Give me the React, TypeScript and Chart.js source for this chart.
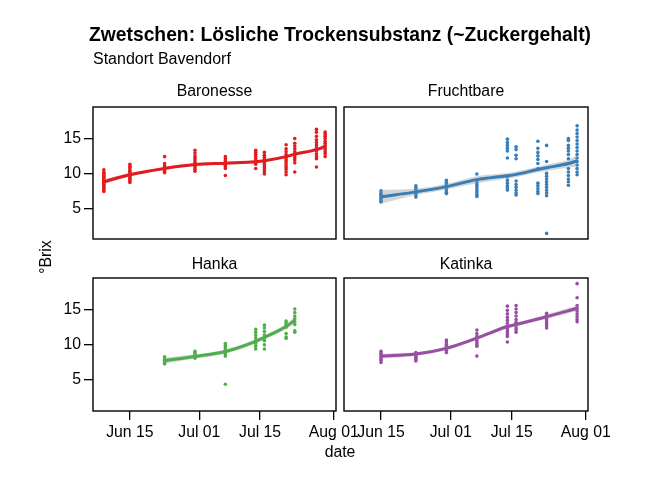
import { useEffect, useRef } from 'react'
import { Chart, registerables } from 'chart.js'

// Register Chart.js components
Chart.register(...registerables)

const W = 666
const H = 484
const FONT = "'Liberation Sans', Arial, sans-serif"

// tick labels shared by all panels
const xTickDates = ['06-15', '07-01', '07-15', '08-01']
const xTickLabels = ['Jun 15', 'Jul 01', 'Jul 15', 'Aug 01']
const yTicks = [5, 10, 15]

// Baronesse
const baronesseDates = ['06-09', '06-15', '06-23', '06-30', '07-07', '07-14', '07-16', '07-21', '07-23', '07-28', '07-30']
const baronesseBrix = [
  [10.5, 10.2, 10.0, 9.8, 9.6, 9.4, 9.2, 9.0, 8.9, 8.8, 8.7, 8.6, 8.5, 8.4, 8.2, 8.0, 7.8, 7.6, 7.4],
  [11.3, 11.0, 10.8, 10.5, 10.3, 10.1, 9.9, 9.7, 9.5, 9.3, 9.1, 8.9, 8.7],
  [12.4, 11.4, 11.1, 10.9, 10.7, 10.5, 10.3, 10.1],
  [13.3, 12.9, 12.5, 12.2, 11.9, 11.6, 11.3, 11.1, 10.9, 10.6, 10.3],
  [12.4, 12.1, 11.8, 11.5, 11.3, 11.1, 10.9, 10.7, 9.7],
  [13.3, 13.0, 12.7, 12.4, 12.1, 11.8, 11.5, 11.3, 10.7],
  [13.0, 12.6, 12.3, 12.0, 11.7, 11.4, 11.1, 10.8, 10.5, 10.2, 9.9],
  [14.1, 13.5, 13.1, 12.7, 12.4, 12.1, 11.8, 11.5, 11.2, 10.9, 10.6, 10.2, 9.8],
  [15.0, 14.3, 13.9, 13.5, 13.1, 12.8, 12.5, 12.2, 11.9, 11.5, 10.2],
  [16.3, 15.9, 15.3, 14.8, 14.4, 14.0, 13.6, 13.2, 12.8, 12.4, 12.1, 10.9],
  [15.9, 15.6, 15.3, 15.0, 14.6, 14.3, 14.0, 13.7, 13.4, 13.1, 12.8, 12.4],
]
const baronesseSmooth = [8.8, 9.8, 10.7, 11.25, 11.45, 11.65, 11.8, 12.4, 12.75, 13.4, 13.85]
const baronesseBand = [0.35, 0.25, 0.2, 0.2, 0.2, 0.2, 0.2, 0.2, 0.2, 0.25, 0.35]

// Fruchtbare
const fruchtbareDates = ['06-15', '06-23', '06-30', '07-07', '07-14', '07-16', '07-21', '07-23', '07-28', '07-30']
const fruchtbareBrix = [
  [7.5, 7.2, 7.0, 6.8, 6.6, 6.4, 6.2, 6.0, 5.9],
  [8.2, 7.9, 7.7, 7.5, 7.3, 7.1, 6.9, 6.6],
  [9.0, 8.7, 8.5, 8.3, 8.1, 7.9, 7.6, 7.3, 7.1],
  [9.9, 9.0, 8.7, 8.4, 8.1, 7.8, 7.5, 7.2, 6.9, 6.7],
  [14.9, 14.4, 14.0, 13.6, 13.2, 12.2, 9.5, 9.0, 8.6, 8.2, 7.9, 7.6],
  [13.8, 13.4, 12.6, 12.1, 8.9, 8.4, 8.0, 7.6, 7.2, 6.9],
  [14.6, 13.6, 13.0, 12.5, 12.0, 11.4, 10.7, 8.6, 8.2, 7.8, 7.4, 7.1],
  [14.0, 11.7, 10.0, 9.6, 9.2, 8.8, 8.4, 8.0, 7.6, 7.2, 6.8, 1.4],
  [15.0, 14.7, 14.0, 13.6, 13.2, 12.7, 12.1, 10.7, 10.2, 9.7, 9.2, 8.8, 8.3],
  [16.8, 16.2, 15.7, 15.2, 14.7, 14.2, 13.7, 13.2, 12.7, 12.2, 11.7, 11.2, 10.7, 10.2, 9.8],
]
const fruchtbareSmooth = [6.65, 7.35, 8.1, 9.1, 9.65, 9.85, 10.55, 10.8, 11.4, 11.8]
const fruchtbareBand = [1.0, 0.45, 0.4, 0.5, 0.4, 0.4, 0.4, 0.45, 0.55, 0.8]

// Hanka
const hankaDates = ['06-23', '06-30', '07-07', '07-14', '07-16', '07-21', '07-23']
const hankaBrix = [
  [8.3, 8.0, 7.8, 7.6, 7.4, 7.3],
  [9.1, 8.9, 8.7, 8.5, 8.3, 8.1],
  [10.2, 9.9, 9.6, 9.3, 9.0, 8.7, 8.4, 4.4],
  [12.2, 11.8, 11.4, 11.0, 10.6, 10.2, 9.8, 9.4],
  [12.8, 12.4, 11.9, 11.4, 11.0, 10.6, 10.0, 9.4],
  [13.4, 13.1, 12.8, 12.5, 11.6, 11.1, 10.9],
  [15.1, 14.6, 14.1, 13.7, 13.3, 12.9, 12.0, 11.8],
]
const hankaSmooth = [7.75, 8.35, 9.05, 10.5, 11.05, 12.6, 13.5]
const hankaBand = [0.4, 0.3, 0.3, 0.3, 0.3, 0.35, 0.45]

// Katinka
const katinkaDates = ['06-15', '06-23', '06-30', '07-07', '07-14', '07-16', '07-23', '07-30']
const katinkaBrix = [
  [9.1, 8.8, 8.6, 8.4, 8.2, 8.0, 7.8, 7.5],
  [8.9, 8.7, 8.5, 8.3, 8.1, 7.9, 7.7],
  [10.7, 10.4, 10.1, 9.8, 9.5, 9.2, 8.9],
  [12.1, 11.6, 11.2, 10.9, 10.6, 10.3, 10.0, 9.8, 8.4],
  [15.5, 14.9, 14.4, 13.9, 13.5, 13.1, 12.7, 12.3, 12.0, 11.7, 11.4, 11.2, 10.4],
  [15.6, 15.1, 14.6, 14.1, 13.6, 13.2, 12.8, 12.4, 12.1, 11.8],
  [14.5, 14.2, 13.9, 13.6, 13.3, 13.0, 12.7, 12.4],
  [18.7, 16.7, 15.6, 15.2, 14.8, 14.4, 14.0, 13.6, 13.3],
]
const katinkaSmooth = [8.4, 8.7, 9.5, 10.95, 12.6, 12.9, 14.0, 15.2]
const katinkaBand = [0.35, 0.25, 0.25, 0.25, 0.25, 0.25, 0.3, 0.4]

// month-day -> day number (Jun 1 = 1)
const dayNo = (md: string) => {
  const [m, d] = md.split('-').map(Number)
  return (m === 6 ? 0 : m === 7 ? 30 : 61) + d
}

const boxPlugin = {
  id: 'panelBox',
  afterDatasetsDraw(chart: any) {
    const { ctx, chartArea: a } = chart
    ctx.save()
    ctx.strokeStyle = '#000'
    ctx.lineWidth = 1.4
    ctx.strokeRect(a.left, a.top, a.right - a.left, a.bottom - a.top)
    ctx.restore()
  },
}

type Area = { left: number; top: number; right: number; bottom: number }

type PanelProps = {
  dates: string[]
  brix: number[][]
  smooth: number[]
  band: number[]
  color: string
  area: Area
  showX: boolean
  showY: boolean
}

function Panel({ dates, brix, smooth, band, color, area, showX, showY }: PanelProps) {
  const chartRef = useRef<HTMLCanvasElement>(null)

  useEffect(() => {
    if (!chartRef.current) return
    const days = dates.map(dayNo)
    const points = days.flatMap((x, i) => brix[i].map(y => ({ x, y })))
    const line = days.map((x, i) => ({ x, y: smooth[i] }))
    const lower = days.map((x, i) => ({ x, y: smooth[i] - band[i] }))
    const upper = days.map((x, i) => ({ x, y: smooth[i] + band[i] }))

    const chart = new Chart(chartRef.current, {
      type: 'scatter',
      data: {
        datasets: [
          {
            type: 'line',
            data: line,
            borderColor: color,
            borderWidth: 3,
            pointRadius: 0,
            cubicInterpolationMode: 'monotone',
            order: 0,
          },
          {
            type: 'line',
            data: lower,
            borderWidth: 0,
            borderColor: 'transparent',
            pointRadius: 0,
            cubicInterpolationMode: 'monotone',
            order: 1,
          },
          {
            type: 'line',
            data: upper,
            borderWidth: 0,
            borderColor: 'transparent',
            backgroundColor: 'rgba(150, 150, 150, 0.4)',
            pointRadius: 0,
            cubicInterpolationMode: 'monotone',
            fill: '-1',
            order: 1,
          },
          {
            data: points,
            backgroundColor: color,
            borderWidth: 0,
            pointRadius: 1.8,
            order: 2,
          },
        ],
      },
      options: {
        animation: false,
        responsive: false,
        events: [],
        layout: {
          padding: {
            left: showY ? 0 : area.left,
            top: area.top,
            right: W - area.right,
            bottom: showX ? 0 : H - area.bottom,
          },
        },
        plugins: { legend: { display: false }, tooltip: { enabled: false } },
        scales: {
          x: {
            type: 'linear',
            display: showX,
            min: 6.5,
            max: 62.5,
            afterBuildTicks: (s: any) => { s.ticks = xTickDates.map(d => ({ value: dayNo(d) })) },
            afterFit: (s: any) => { if (showX) s.height = H - area.bottom },
            grid: { drawOnChartArea: false, drawTicks: true, tickLength: 9, color: '#000', lineWidth: 1.3 },
            border: { display: false },
            ticks: {
              autoSkip: false,
              maxRotation: 0,
              padding: 3,
              color: '#000',
              font: { family: FONT, size: 15.8 },
              callback: (_v: any, i: number) => xTickLabels[i],
            },
          },
          y: {
            type: 'linear',
            display: showY,
            min: 0.6,
            max: 19.5,
            afterBuildTicks: (s: any) => { s.ticks = yTicks.map(v => ({ value: v })) },
            afterFit: (s: any) => { if (showY) s.width = area.left },
            grid: { drawOnChartArea: false, drawTicks: true, tickLength: 9, color: '#000', lineWidth: 1.3 },
            border: { display: false },
            ticks: {
              padding: 3,
              color: '#000',
              font: { family: FONT, size: 15.8 },
            },
          },
        },
      },
      plugins: [boxPlugin],
    } as any)

    return () => chart.destroy()
  }, [dates, brix, smooth, band, color, area, showX, showY])

  return (
    <canvas
      ref={chartRef}
      width={W}
      height={H}
      style={{ position: 'absolute', left: 0, top: 0, width: W, height: H }}
    />
  )
}

const label = (text: string, x: number, y: number, extra: any = {}) => (
  <div
    style={{
      position: 'absolute',
      left: x,
      top: y,
      transform: 'translate(-50%, -50%)',
      whiteSpace: 'nowrap',
      fontSize: 15.8,
      lineHeight: 1,
      color: '#000',
      ...extra,
    }}
  >
    {text}
  </div>
)

const TL = { left: 93, top: 107, right: 336, bottom: 239 }
const TR = { left: 344, top: 107, right: 588, bottom: 239 }
const BL = { left: 93, top: 278, right: 336, bottom: 411 }
const BR = { left: 344, top: 278, right: 588, bottom: 411 }

export default function App() {
  return (
    <div style={{ position: 'absolute', left: 0, top: 0, width: W, height: H, fontFamily: FONT, background: '#fff' }}>
      <Panel dates={baronesseDates} brix={baronesseBrix} smooth={baronesseSmooth} band={baronesseBand}
        color="#E41A1C" area={TL} showX={false} showY={true} />
      <Panel dates={fruchtbareDates} brix={fruchtbareBrix} smooth={fruchtbareSmooth} band={fruchtbareBand}
        color="#377EB8" area={TR} showX={false} showY={false} />
      <Panel dates={hankaDates} brix={hankaBrix} smooth={hankaSmooth} band={hankaBand}
        color="#4DAF4A" area={BL} showX={true} showY={true} />
      <Panel dates={katinkaDates} brix={katinkaBrix} smooth={katinkaSmooth} band={katinkaBand}
        color="#984EA3" area={BR} showX={true} showY={false} />

      {label('Zwetschen: Lösliche Trockensubstanz (~Zuckergehalt)', 340, 35, { fontSize: 19.3, fontWeight: 'bold' })}
      <div style={{ position: 'absolute', left: 93, top: 51, fontSize: 16, lineHeight: 1, whiteSpace: 'nowrap' }}>
        Standort Bavendorf
      </div>
      {label('Baronesse', 214.5, 91)}
      {label('Fruchtbare', 466, 91)}
      {label('Hanka', 214.5, 264)}
      {label('Katinka', 466, 264)}
      {label('°Brix', 46, 257, { transform: 'translate(-50%, -50%) rotate(-90deg)' })}
      {label('date', 340, 452)}
    </div>
  )
}
